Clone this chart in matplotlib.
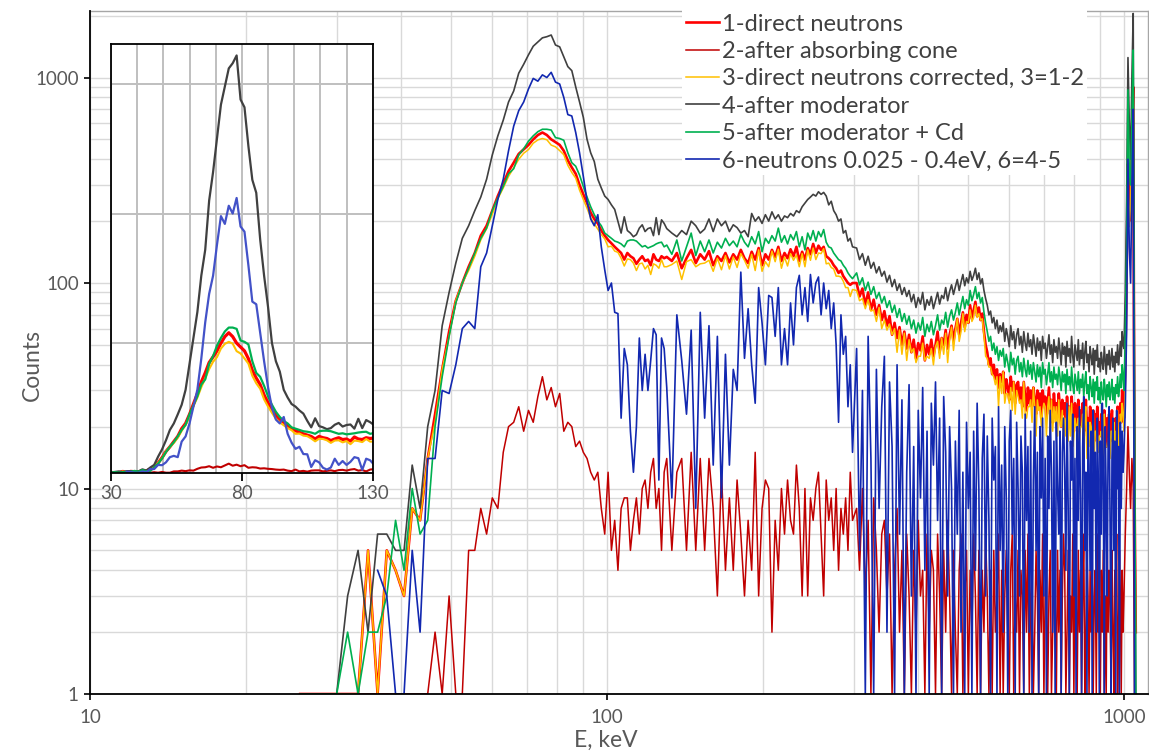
import numpy as np
import matplotlib
matplotlib.use("Agg")
import matplotlib.pyplot as plt
from matplotlib.ticker import FixedLocator, FixedFormatter, NullFormatter

plt.rcParams['font.family'] = ['Lato', 'DejaVu Sans']

# ---------------- energy channels (keV) ----------------
E_low = np.arange(25.5, 131.0, 1.5)    # 71 channels
E_mid = np.arange(133.5, 299.0, 3.0)   # 56 channels
E_high = np.arange(304, 997, 4)        # 174 channels
E_peak = [1000, 1006, 1012, 1018, 1024, 1030, 1036, 1042, 1048, 1054]

labels = ["1-direct neutrons", "2-after absorbing cone",
          "3-direct neutrons corrected, 3=1-2", "4-after moderator",
          "5-after moderator + Cd", "6-neutrons 0.025 - 0.4eV, 6=4-5"]

# ---------------- 1 - direct neutrons ----------------
red_low = [1, 1, 1, 1, 0, 0, 5, 0, 5, 4, 3, 8, 7, 14, 23,
           38, 58, 82, 100, 120, 140, 170, 190, 225, 265,
           305, 350, 385, 425, 447, 470, 500, 525, 540, 525,
           500, 485, 470, 440, 395, 365, 340, 300, 270, 245,
           220, 205, 195, 180, 170, 162, 156, 150, 145, 140,
           130, 140, 135, 132, 124, 130, 135, 128, 130, 122,
           138, 130, 128, 135, 132, 134]
red_mid = [128, 140, 118, 132, 145, 125, 138, 130, 143, 122,
           135, 128, 140, 126, 138, 130, 145, 132, 125, 142,
           130, 148, 122, 138, 130, 145, 134, 150, 128, 140,
           132, 146, 135, 150, 128, 142, 130, 148, 138, 155,
           140, 152, 145, 150, 135, 132, 128, 122, 118, 112,
           115, 108, 104, 100, 98, 100]
red_high = [100, 86, 94, 78, 90, 74, 83, 70, 78, 66,
            73, 62, 69, 56, 64, 54, 61, 50, 58, 48,
            56, 46, 53, 43, 51, 47, 55, 42, 50, 45,
            53, 44, 50, 58, 46, 54, 50, 59, 48, 56,
            62, 52, 60, 67, 56, 64, 72, 61, 70, 64,
            78, 67, 74, 81, 69, 76, 66, 71, 58, 50,
            46, 40, 43, 36, 40, 34, 38, 31, 36, 33,
            37, 29, 34, 31, 27, 35, 30, 33, 26, 32,
            33, 27, 31, 25, 33, 28, 24, 31, 26, 30,
            25, 31, 27, 23, 30, 25, 29, 22, 30, 26,
            28, 22, 26, 31, 23, 27, 21, 29, 24, 26,
            23, 29, 25, 20, 27, 23, 26, 19, 28, 22,
            25, 21, 28, 22, 19, 26, 23, 20, 27, 19,
            24, 21, 26, 18, 23, 27, 19, 22, 17, 25,
            22, 18, 24, 17, 23, 20, 25, 17, 21, 18,
            23, 19, 17, 24, 20, 16, 22, 18, 23, 17,
            20, 24, 17, 21, 16, 22, 19, 25, 18, 21,
            26, 21, 30, 25]
red_peak = [22, 40, 110, 380, 200, 250, 500, 900, 10, 2]

# ---------------- 2 - after absorbing cone ----------------
dred_low = [0, 0, 0, 0, 0, 0, 0, 0, 0, 0, 0, 0, 0, 0, 2,
            0, 3, 0, 0, 5, 5, 8, 6, 9, 8,
            15, 20, 21, 25, 19, 24, 21, 28, 35, 27,
            31, 25, 29, 19, 21, 20, 16, 17, 15, 14,
            12, 11, 12, 8, 6, 12, 5, 7, 4, 8,
            9, 9, 5, 7, 9, 6, 10, 11, 8, 12,
            14, 8, 10, 5, 12, 14]
dred_mid = [5, 12, 14, 5, 15, 5, 14, 5, 14, 8,
            3, 12, 4, 9, 4, 11, 6, 3, 7, 4,
            15, 3, 8, 11, 10, 2, 7, 4, 10, 6,
            11, 7, 6, 13, 8, 3, 10, 3, 9, 7,
            10, 12, 6, 3, 11, 7, 9, 5, 10, 4,
            8, 6, 9, 5, 12, 7]
dred_high = [8, 4, 10, 3, 7, 1, 9, 5, 2, 6,
             7, 3, 6, 0, 4, 8, 2, 5, 1, 6,
             3, 0, 5, 2, 7, 3, 4, 0, 6, 2,
             5, 4, 1, 6, 3, 0, 5, 2, 7, 3,
             1, 5, 2, 0, 4, 6, 1, 3, 5, 0,
             4, 2, 6, 3, 1, 5, 0, 4, 2, 6,
             3, 1, 4, 0, 5, 2, 3, 6, 1, 4,
             0, 3, 5, 2, 1, 4, 6, 0, 3, 2,
             5, 1, 4, 3, 0, 5, 2, 6, 1, 3,
             4, 0, 2, 5, 3, 1, 4, 2, 6, 0,
             3, 4, 1, 3, 5, 0, 2, 4, 3, 1,
             5, 2, 4, 0, 3, 6, 4, 1, 2, 5,
             0, 3, 2, 6, 1, 4, 3, 0, 5, 2,
             4, 1, 3, 6, 0, 2, 5, 3, 1, 4,
             2, 5, 0, 3, 4, 1, 6, 2, 3, 0,
             4, 2, 5, 1, 3, 0, 6, 2, 4, 3,
             1, 5, 2, 0, 4, 3, 6, 1, 2, 5,
             3, 0, 4, 2]
dred_peak = [3, 6, 10, 20, 12, 8, 14, 10, 0, 0]

# ---------------- 4 - after moderator ----------------
black_low = [None, None, None, 1, 3, 5, 2, 6, 6, 5, 5, 13, 8, 20, 30,
             62, 90, 125, 165, 190, 225, 262, 320, 420, 520,
             620, 760, 860, 1050, 1160, 1290, 1420, 1490, 1560, 1580,
             1610, 1440, 1410, 1260, 1130, 1080, 900, 760, 640, 500,
             430, 390, 320, 290, 265, 255, 240, 228, 200, 175,
             210, 180, 175, 168, 172, 185, 192, 178, 184, 186,
             170, 208, 172, 203, 195, 184]
black_mid = [175, 168, 180, 172, 200, 190, 175, 183, 205, 178,
             205, 190, 200, 178, 192, 186, 175, 180, 168, 218,
             200, 210, 195, 215, 200, 222, 205, 215, 200, 212,
             208, 218, 212, 225, 220, 235, 245, 255, 262, 270,
             265, 278, 270, 276, 265, 240, 250, 225, 215, 200,
             205, 175, 180, 160, 165, 150]
black_high = [148, 130, 139, 122, 135, 118, 126, 112, 120, 108,
              114, 101, 109, 96, 104, 92, 99, 88, 95, 86,
              92, 81, 88, 76, 85, 79, 90, 74, 83, 78,
              86, 75, 82, 90, 79, 87, 84, 95, 82, 91,
              98, 88, 96, 104, 92, 101, 110, 97, 106, 100,
              114, 103, 109, 118, 104, 112, 99, 105, 92, 84,
              78, 70, 73, 64, 68, 60, 66, 57, 62, 58,
              64, 52, 60, 55, 49, 62, 53, 58, 48, 56,
              60, 50, 55, 46, 58, 51, 47, 57, 49, 53,
              45, 56, 50, 44, 54, 47, 52, 42, 55, 48,
              51, 43, 49, 56, 45, 50, 41, 53, 46, 49,
              43, 54, 47, 40, 51, 45, 49, 39, 52, 44,
              48, 41, 55, 44, 39, 50, 46, 42, 53, 40,
              47, 43, 51, 38, 46, 52, 41, 45, 37, 49,
              44, 40, 48, 36, 47, 42, 50, 39, 43, 37,
              46, 41, 38, 49, 42, 36, 45, 40, 47, 38,
              43, 48, 39, 44, 37, 46, 41, 50, 40, 45,
              52, 44, 58, 50]
black_peak = [48, 90, 250, 1250, 600, 400, 1000, 2050, 30, 0]

# ---------------- 5 - after moderator + Cd ----------------
green_low = [0, 0, 0, 0, 2, 0, 2, 2, 3, 7, 4, 10, 6, 7, 20,
             35, 55, 80, 100, 118, 140, 165, 185, 225, 260,
             295, 340, 360, 420, 450, 490, 520, 545, 560, 560,
             555, 510, 505, 495, 430, 385, 370, 335, 295, 262,
             235, 215, 200, 190, 175, 170, 165, 160, 158, 155,
             150, 160, 162, 162, 160, 155, 150, 152, 148, 150,
             152, 155, 157, 158, 150, 153]
green_mid = [138, 162, 128, 150, 175, 136, 160, 142, 162, 140,
             158, 148, 165, 152, 160, 150, 172, 158, 150, 168,
             155, 178, 142, 165, 156, 170, 160, 185, 158, 170,
             155, 172, 162, 178, 150, 168, 145, 175, 162, 180,
             160, 178, 168, 182, 158, 150, 148, 140, 135, 130,
             128, 122, 118, 112, 108, 105]
green_high = [112, 98, 106, 92, 101, 88, 96, 84, 90, 80,
              86, 76, 82, 72, 78, 68, 75, 65, 71, 63,
              69, 60, 66, 57, 64, 59, 68, 55, 63, 58,
              65, 56, 62, 70, 59, 66, 63, 72, 61, 69,
              74, 66, 72, 80, 70, 78, 86, 75, 83, 78,
              92, 82, 88, 96, 84, 90, 80, 85, 72, 64,
              58, 52, 55, 47, 51, 45, 49, 42, 47, 44,
              48, 39, 45, 41, 37, 46, 40, 43, 36, 42,
              44, 37, 41, 35, 43, 38, 35, 42, 36, 40,
              34, 41, 37, 33, 40, 35, 39, 31, 41, 36,
              38, 32, 36, 41, 33, 37, 31, 39, 34, 36,
              32, 39, 35, 30, 37, 33, 36, 29, 38, 32,
              35, 30, 39, 32, 29, 36, 33, 30, 37, 29,
              34, 31, 36, 28, 33, 37, 29, 32, 27, 35,
              31, 28, 34, 26, 33, 30, 35, 27, 31, 26,
              33, 29, 27, 34, 30, 25, 32, 28, 33, 27,
              30, 34, 27, 31, 26, 32, 29, 35, 28, 31,
              36, 31, 40, 35]
green_peak = [30, 55, 150, 870, 350, 300, 600, 1360, 20, 0]

# ---------------- 6 - thermal neutrons ----------------
blue_low = [None, None, None, None, None, None, None, 4, 3, 0, 0, 5, 2, 14, 14,
            30, 29, 40, 60, 65, 60, 120, 140, 190, 255,
            320, 440, 580, 690, 760, 880, 990, 960, 1030, 1000,
            1060, 950, 930, 800, 660, 650, 540, 430, 330, 250,
            205, 190, 215, 150, 116, 92, 100, 72, 71, 22,
            48, 40, 19, 12, 20, 54, 30, 45, 30, 42,
            60, 56, 11, 54, 48, 31]
blue_mid = [9, 70, 42, 23, 59, 8, 72, 22, 62, 13,
            55, 9, 45, 13, 38, 30, 113, 43, 75, 40,
            26, 95, 64, 40, 87, 85, 55, 95, 40, 60,
            40, 80, 50, 95, 109, 70, 95, 65, 110, 80,
            100, 107, 70, 100, 75, 92, 60, 80, 50, 21,
            70, 45, 55, 25, 40, 15]
blue_high = [48, 5, 30, 0, 55, 14, 0, 38, 8, 25,
             44, 2, 33, 16, 0, 40, 6, 27, 0, 12,
             32, 3, 16, 0, 24, 9, 31, 4, 19, 0,
             26, 13, 33, 7, 22, 0, 28, 15, 3, 20,
             10, 0, 17, 6, 24, 2, 12, 0, 21, 8,
             15, 0, 19, 4, 26, 10, 0, 14, 23, 3,
             18, 7, 0, 22, 11, 16, 0, 25, 5, 13,
             2, 20, 9, 0, 17, 24, 6, 14, 0, 21,
             10, 3, 18, 12, 0, 23, 7, 16, 2, 19,
             0, 11, 25, 5, 15, 0, 20, 9, 22, 3,
             14, 0, 18, 8, 24, 12, 2, 17, 0, 21,
             10, 6, 19, 0, 15, 22, 12, 4, 26, 8,
             0, 17, 11, 23, 3, 14, 0, 20, 7, 25,
             9, 1, 16, 28, 5, 12, 0, 21, 13, 4,
             19, 0, 24, 8, 15, 2, 22, 11, 0, 17,
             6, 26, 13, 0, 20, 9, 3, 18, 25, 7,
             0, 14, 22, 5, 17, 1, 24, 10, 16, 0,
             21, 8, 19, 12]
blue_peak = [15, 25, 60, 400, 150, 100, 300, 700, 0, 0]


def join(*parts):
    return np.concatenate([np.array(p, dtype=float) for p in parts])


E = join(E_low, E_mid, E_high, E_peak)
s1 = join(red_low, red_mid, red_high, red_peak)
s2 = join(dred_low, dred_mid, dred_high, dred_peak)
s3 = np.clip(s1 - s2, 0, None)          # 3 = 1 - 2
s4 = join(black_low, black_mid, black_high, black_peak)
s5 = join(green_low, green_mid, green_high, green_peak)
s6 = join(blue_low, blue_mid, blue_high, blue_peak)

series = [s1, s2, s3, s4, s5, s6]
colors = ["#FF0000", "#C00000", "#FFC000", "#404040", "#00B050", "#1228B0"]
inset_colors = ["#FF0000", "#C00000", "#FFC000", "#404040", "#00B050", "#4352C8"]
widths = [1.9, 1.1, 1.1, 1.2, 1.2, 1.2]
inset_widths = [2.3, 1.5, 1.5, 1.6, 1.6, 1.6]

txt = "#595959"

fig = plt.figure(figsize=(11.49, 7.54), dpi=100)
ax = fig.add_axes([0.07833, 0.07958, 0.92080, 0.90637])

handles = []
for k, (y, c, w, lab) in enumerate(zip(series, colors, widths, labels)):
    yv = np.where(y < 1, 1, y)   # zero counts sit on the axis floor
    ln, = ax.plot(E, yv, color=c, lw=w, zorder=2 + 0.1 * k, label=lab)
    handles.append(ln)

ax.set_xscale('log')
ax.set_yscale('log', nonpositive='clip')
ax.set_xlim(10, 1113)
ax.set_ylim(1, 2117)

ax.xaxis.set_major_locator(FixedLocator([10, 100, 1000]))
ax.xaxis.set_major_formatter(FixedFormatter(["10", "100", "1000"]))
ax.xaxis.set_minor_locator(FixedLocator([m * d for d in (10, 100) for m in range(2, 10)]))
ax.xaxis.set_minor_formatter(NullFormatter())
ax.yaxis.set_major_locator(FixedLocator([1, 10, 100, 1000]))
ax.yaxis.set_major_formatter(FixedFormatter(["1", "10", "100", "1000"]))
ax.yaxis.set_minor_locator(FixedLocator([m * d for d in (1, 10, 100, 1000) for m in range(2, 10)]))
ax.yaxis.set_minor_formatter(NullFormatter())

ax.grid(which='both', color='#D9D9D9', lw=1.0)
ax.set_axisbelow(True)
ax.tick_params(which='minor', length=0)
ax.tick_params(axis='x', which='major', length=4, width=1.2, color='black',
               labelsize=13.5, labelcolor=txt, pad=7)
ax.tick_params(axis='y', which='major', length=4, width=1.2, color='black',
               labelsize=13.5, labelcolor=txt, pad=4)
for s in ('left', 'bottom'):
    ax.spines[s].set_color('black')
    ax.spines[s].set_linewidth(1.3)
    ax.spines[s].set_zorder(5)
for s in ('top', 'right'):
    ax.spines[s].set_color('#A6A6A6')
    ax.spines[s].set_linewidth(1.0)

ax.set_ylabel("Counts", fontsize=16.5, color=txt)
ax.yaxis.set_label_coords(-0.045, 0.481)
ax.set_xlabel("E, keV", fontsize=16.5, color=txt)
ax.xaxis.set_label_coords(0.4877, -0.052)

leg = ax.legend(handles=handles, loc='upper left',
                bbox_to_anchor=(682 / 1149, 1 - 10 / 754),
                bbox_transform=fig.transFigure, fontsize=17,
                frameon=True, fancybox=False, edgecolor='none',
                facecolor='white', framealpha=1.0, borderpad=0.15,
                handlelength=1.4, handletextpad=0.13, labelspacing=0.27,
                borderaxespad=0)
leg.set_zorder(10)
for t in leg.get_texts():
    t.set_color('#404040')

# ---------------- inset (linear scale) ----------------
ins = fig.add_axes([0.09661, 0.37308, 0.22777, 0.56817])
ins.set_facecolor('white')
ins.set_zorder(6)
for k, (y, c, w) in enumerate(zip(series, inset_colors, inset_widths)):
    ins.plot(E, y, color=c, lw=w, zorder=2 + 0.1 * k)
ins.set_xlim(30, 130)
ins.set_ylim(0, 1653)
ins.xaxis.set_major_locator(FixedLocator([30, 80, 130]))
ins.xaxis.set_minor_locator(FixedLocator([40, 50, 60, 70, 90, 100, 110, 120]))
ins.yaxis.set_major_locator(FixedLocator([500, 1000, 1500]))
ins.set_yticklabels([])
ins.grid(which='both', color='#BFBFBF', lw=1.4)
ins.set_axisbelow(True)
ins.tick_params(axis='y', length=0)
ins.tick_params(axis='x', which='minor', length=0)
ins.tick_params(axis='x', which='major', length=6, width=1.3, color='black',
                labelsize=13.5, labelcolor=txt, pad=3)
for s in ins.spines.values():
    s.set_color('black')
    s.set_linewidth(1.3)

fig.savefig("out.png", dpi=100)
